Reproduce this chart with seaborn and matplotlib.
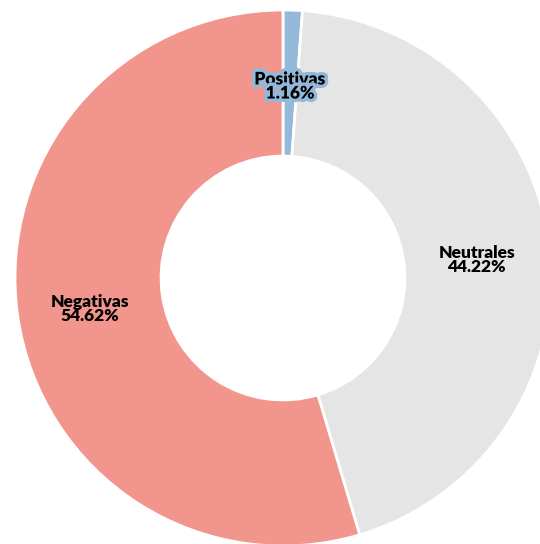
import matplotlib
matplotlib.use("Agg")
import matplotlib.pyplot as plt
import matplotlib.patheffects as pe
import seaborn as sns
import numpy as np

# datos
categorias = ["Positivas", "Neutrales", "Negativas"]
porcentajes = [1.16, 44.22, 54.62]
colores = ["#94b8d9", "#e5e5e5", "#f2968d"]

sns.set_style("white")
plt.rcParams["font.family"] = ["Lato", "DejaVu Sans"]

fig = plt.figure(figsize=(5.4, 5.44), dpi=100)
ax = fig.add_axes([15 / 540, -2 / 544, 536 / 540, 536 / 544])

wedges, _ = ax.pie(porcentajes, colors=colores, startangle=90, counterclock=False,
                   radius=1, wedgeprops=dict(width=0.545, edgecolor="white", linewidth=2))

# etiquetas en el centro del anillo
r_lab = 0.727
for w, cat, p, c in zip(wedges, categorias, porcentajes, colores):
    ang = np.deg2rad((w.theta1 + w.theta2) / 2)
    x, y = r_lab * np.cos(ang), r_lab * np.sin(ang) - 0.012
    t = ax.text(x, y, f"{cat}\n{p:.2f}%", ha="center", va="center",
                fontsize=12.5, fontweight="heavy", linespacing=0.85, color="black")
    if cat == "Positivas":
        t.set_path_effects([pe.withStroke(linewidth=5, foreground=c)])

ax.set_xlim(-1, 1)
ax.set_ylim(-1, 1)
ax.set_aspect("equal")
ax.axis("off")

fig.savefig("out.png", dpi=100)
